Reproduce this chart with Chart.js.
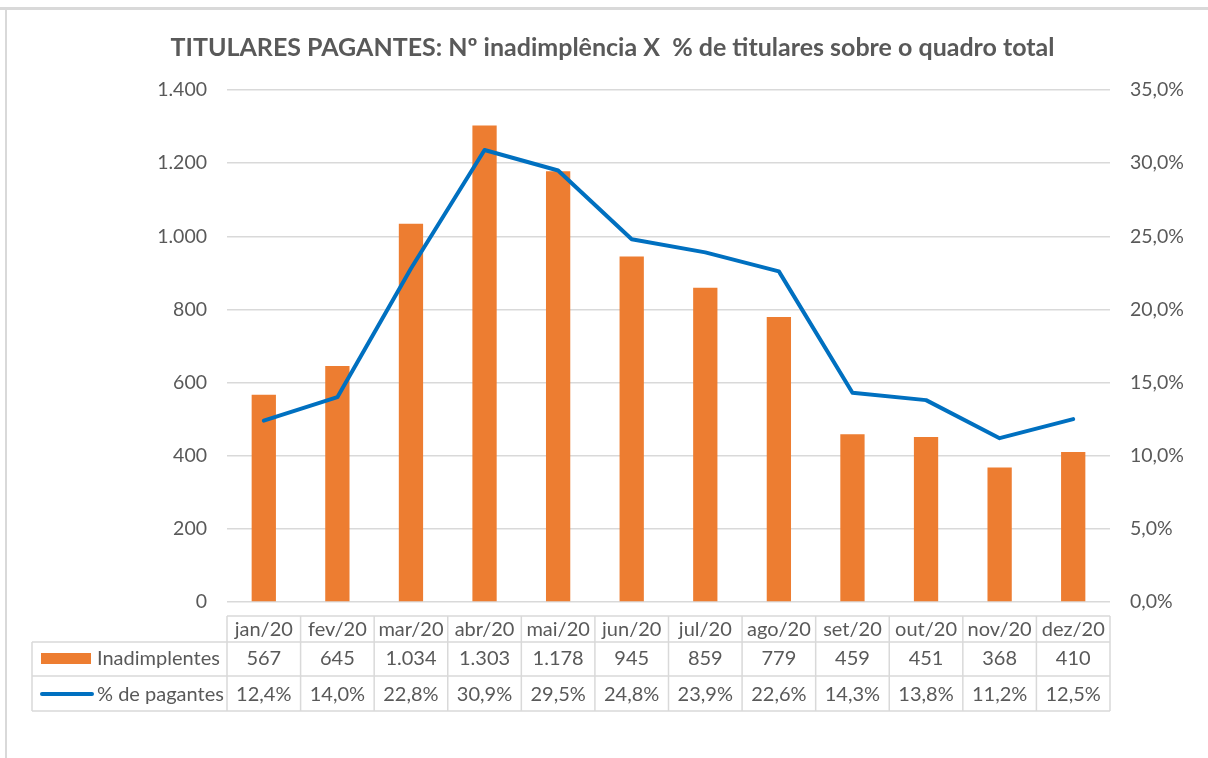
<!DOCTYPE html>
<html>
<head>
<meta charset="utf-8">
<script src="https://cdn.jsdelivr.net/npm/chart.js@4"></script>
<style>
  html, body { margin: 0; padding: 0; background: #ffffff; }
  #wrap { position: relative; width: 1208px; height: 758px; }
</style>
</head>
<body>
<div id="wrap"><canvas id="c" width="1208" height="758"></canvas></div>
<script>
const categories = ['jan/20','fev/20','mar/20','abr/20','mai/20','jun/20','jul/20','ago/20','set/20','out/20','nov/20','dez/20'];
const inadimplentes = [567, 645, 1034, 1303, 1178, 945, 859, 779, 459, 451, 368, 410];
const pctPagantes = [12.4, 14.0, 22.8, 30.9, 29.5, 24.8, 23.9, 22.6, 14.3, 13.8, 11.2, 12.5];
const seriesNames = ['Inadimplentes', '% de pagantes'];
const titleText = 'TITULARES PAGANTES: Nº inadimplência X  % de titulares sobre o quadro total';

const FONT = 'Lato, "Open Sans", sans-serif';
const TXT = '#595959';
const GRID = '#d9d9d9';
const ORANGE = '#ED7D31';
const BLUE = '#0070C0';

const fmtInt = v => v.toLocaleString('pt-BR');
const fmtPct1 = v => v.toFixed(1).replace('.', ',') + '%';

const framePlugin = {
  id: 'frame',
  beforeDraw(chart) {
    const ctx = chart.ctx;
    ctx.save();
    ctx.fillStyle = '#ffffff';
    ctx.fillRect(0, 0, chart.width, chart.height);
    ctx.fillStyle = '#d9d9d9';
    ctx.fillRect(0, 7, chart.width, 3);
    ctx.fillRect(5, 7, 2, chart.height - 7);
    ctx.restore();
  },
  afterDraw(chart) {
    const ctx = chart.ctx;
    ctx.save();
    ctx.fillStyle = TXT;
    ctx.font = 'bold 25px ' + FONT;
    ctx.textAlign = 'center';
    ctx.textBaseline = 'middle';
    ctx.fillText(titleText, 612.5, 48);
    ctx.restore();
  }
};

const tablePlugin = {
  id: 'dataTable',
  afterDraw(chart) {
    const ctx = chart.ctx;
    const xs = chart.scales.x;
    const n = categories.length;
    const w = (chart.chartArea.right - chart.chartArea.left) / n;
    const L = chart.chartArea.left, R = chart.chartArea.right;
    const legendLeft = 32;
    const y0 = 616, y1 = 642, y2 = 676, y3 = 711;
    ctx.save();
    ctx.strokeStyle = GRID;
    ctx.lineWidth = 1.5;
    const hl = (x1, x2, y) => { ctx.beginPath(); ctx.moveTo(x1, y); ctx.lineTo(x2, y); ctx.stroke(); };
    const vl = (x, ya, yb) => { ctx.beginPath(); ctx.moveTo(x, ya); ctx.lineTo(x, yb); ctx.stroke(); };
    hl(L, R, y0);
    hl(legendLeft, R, y1);
    hl(legendLeft, R, y2);
    hl(legendLeft, R, y3);
    vl(legendLeft, y1, y3);
    for (let i = 0; i <= n; i++) {
      const x = xs.getPixelForValue(Math.min(i, n - 1)) + (i === n ? w / 2 : -w / 2);
      vl(x, y0, y3);
    }
    ctx.fillStyle = TXT;
    ctx.font = '20px ' + FONT;
    ctx.textAlign = 'center';
    ctx.textBaseline = 'middle';
    for (let i = 0; i < n; i++) {
      const cx = xs.getPixelForValue(i);
      ctx.fillText(categories[i], cx, 630);
      ctx.fillText(fmtInt(inadimplentes[i]), cx, 659);
      ctx.fillText(fmtPct1(pctPagantes[i]), cx, 695);
    }
    ctx.fillStyle = ORANGE;
    ctx.fillRect(41, 653, 50, 11);
    ctx.strokeStyle = BLUE;
    ctx.lineWidth = 4;
    ctx.lineCap = 'round';
    ctx.beginPath(); ctx.moveTo(42, 694); ctx.lineTo(92, 694); ctx.stroke();
    ctx.fillStyle = TXT;
    ctx.textAlign = 'left';
    ctx.fillText(seriesNames[0], 97, 659);
    ctx.fillText(seriesNames[1], 97, 695);
    ctx.restore();
  }
};

new Chart(document.getElementById('c'), {
  data: {
    labels: categories,
    datasets: [
      {
        type: 'line',
        label: seriesNames[1],
        data: pctPagantes.map(v => v / 100),
        yAxisID: 'y1',
        borderColor: BLUE,
        backgroundColor: BLUE,
        borderWidth: 4,
        pointRadius: 0,
        tension: 0,
        borderCapStyle: 'round',
        borderJoinStyle: 'round',
        order: 0
      },
      {
        type: 'bar',
        label: seriesNames[0],
        data: inadimplentes,
        yAxisID: 'y',
        backgroundColor: ORANGE,
        barPercentage: 0.33,
        categoryPercentage: 1.0,
        order: 1
      }
    ]
  },
  options: {
    responsive: false,
    animation: false,
    devicePixelRatio: 1,
    layout: { padding: { top: 90, bottom: 156, left: 0, right: 0 } },
    plugins: {
      legend: { display: false },
      tooltip: { enabled: false },
      title: { display: false }
    },
    scales: {
      x: { display: false, offset: true },
      y: {
        position: 'left',
        min: 0, max: 1400,
        ticks: { stepSize: 200, color: TXT, font: { family: FONT, size: 19.5 }, padding: 20, callback: v => fmtInt(v) },
        grid: { color: GRID, lineWidth: 1.5, drawTicks: false },
        border: { display: false },
        afterFit: s => { s.width = 227; }
      },
      y1: {
        position: 'right',
        min: 0, max: 0.35,
        ticks: { stepSize: 0.05, color: TXT, font: { family: FONT, size: 19.5 }, padding: 20, callback: v => fmtPct1(v * 100) },
        grid: { display: false, drawTicks: false },
        border: { display: false },
        afterFit: s => { s.width = 98; }
      }
    }
  },
  plugins: [framePlugin, tablePlugin]
});
</script>
</body>
</html>
